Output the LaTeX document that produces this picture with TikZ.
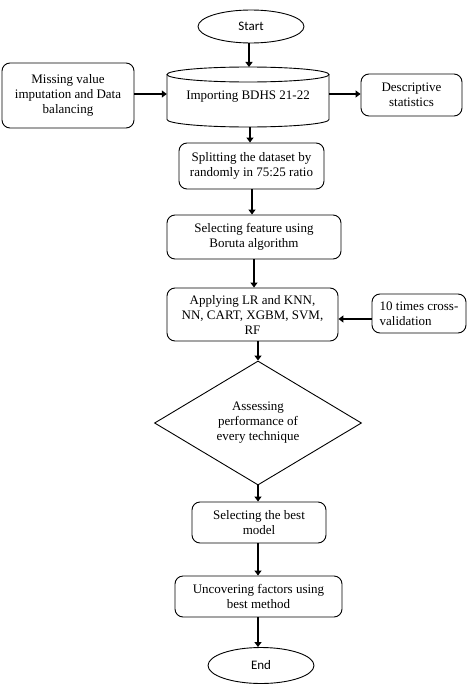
\documentclass[tikz,border=0pt]{standalone}
\usepackage{fontspec}
\setmainfont{Liberation Serif}
\newfontfamily\startfont{Carlito}
\usetikzlibrary{shapes.geometric,arrows.meta}
\begin{document}
\begin{tikzpicture}[x=1pt,y=-1pt,
  every node/.style={font=\fontsize{13}{15}\selectfont},
  rbox/.style={draw,rounded corners=8pt,line width=0.9pt,align=center,inner sep=0pt},
  term/.style={draw,ellipse,line width=0.9pt,inner sep=0pt,font=\startfont\fontsize{13}{15}\selectfont},
  flow/.style={line width=2.8pt,-{Triangle[width=7pt,length=5pt]}}]
\useasboundingbox (0,0) rectangle (474,685);
\node[term,minimum width=106pt,minimum height=33pt] (start) at (251,26.5) {Start};
% cylinder
\node[minimum width=162pt,minimum height=60pt,inner sep=0pt] (imp) at (248,97) {};
\draw[line width=0.9pt] (167,74.5) -- (167,119.5) arc[start angle=180,end angle=360,x radius=81pt,y radius=7.5pt] -- (329,74.5);
\draw[line width=0.9pt] (248,74.5) ellipse[x radius=81pt,y radius=7.5pt];
\node at (248,97) {Importing BDHS 21-22};
\node[rbox,minimum width=132pt,minimum height=65pt] (miss) at (68,95.5) {Missing value\\imputation and Data\\balancing};
\node[rbox,minimum width=101pt,minimum height=42pt] (desc) at (411.5,95) {Descriptive\\statistics};
\node[rbox,minimum width=145pt,minimum height=46pt] (split) at (251.5,166) {Splitting the dataset by\\randomly in 75:25 ratio};
\node[rbox,minimum width=174pt,minimum height=44pt] (feat) at (254,237) {Selecting feature using\\Boruta algorithm};
\node[rbox,minimum width=171pt,minimum height=53pt] (apply) at (252.5,314.5) {Applying LR and KNN,\\NN, CART, XGBM, SVM,\\RF};
\node[rbox,minimum width=94pt,minimum height=39pt,align=left] (cv) at (419,313.5) {10 times cross-\\validation};
\node[draw,diamond,line width=0.9pt,minimum width=207pt,minimum height=108pt,inner sep=0pt,align=center] (assess) at (258,423) {Assessing\\performance of\\every technique};
\node[rbox,minimum width=134pt,minimum height=41pt] (best) at (259,522.5) {Selecting the best\\model};
\node[rbox,minimum width=167pt,minimum height=41pt] (unc) at (258.5,596.5) {Uncovering factors using\\best method};
\node[term,minimum width=106pt,minimum height=36pt] (end) at (261,665.5) {End};
\draw[flow] (start.south -| 249,0) -- (249,67);
\draw[flow] (miss.east |- 0,94) -- (imp.west |- 0,94);
\draw[flow] (imp.east |- 0,94) -- (desc.west |- 0,94);
\draw[flow] (250,127) -- (split.north -| 250,0);
\draw[flow] (split.south -| 252,0) -- (feat.north -| 252,0);
\draw[flow] (feat.south -| 254,0) -- (apply.north -| 254,0);
\draw[flow] (cv.west |- 0,319) -- (apply.east |- 0,319);
\draw[flow] (apply.south -| assess.north) -- (assess.north);
\draw[flow] (assess.south) -- (best.north -| assess.south);
\draw[flow] (best.south -| 258,0) -- (unc.north -| 258,0);
\draw[flow] (unc.south -| 258,0) -- (end.north -| 258,0);
\end{tikzpicture}
\end{document}
